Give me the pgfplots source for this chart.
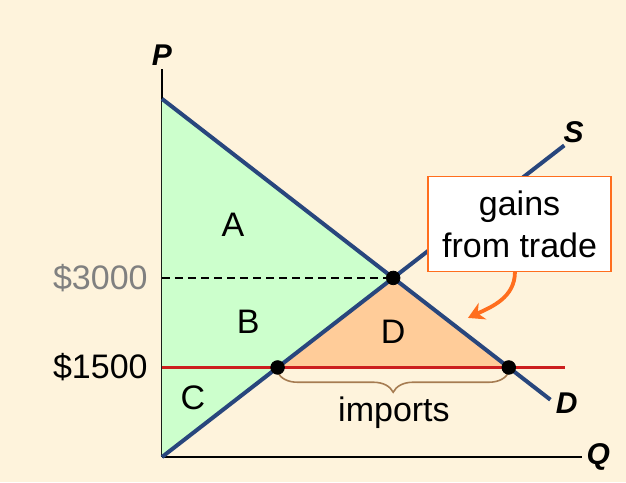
\documentclass[border=0pt]{standalone}
\usepackage{pgfplots}
\pgfplotsset{compat=1.18}
\usepackage{fontspec}
\setmainfont{Liberation Sans}
\usetikzlibrary{decorations.pathreplacing,arrows.meta}

\definecolor{bgcream}{RGB}{254,243,220}
\definecolor{csgreen}{RGB}{204,255,204}
\definecolor{gainorange}{RGB}{255,204,153}
\definecolor{curveblue}{RGB}{40,70,125}
\definecolor{worldred}{RGB}{204,30,30}
\definecolor{bracebrown}{RGB}{166,124,82}
\definecolor{callout}{RGB}{255,110,30}

\begin{document}
\begin{tikzpicture}
% cream background, 1px = 0.5pt, axis origin at (0,0)
\fill[bgcream] (-81pt,-12.5pt) rectangle (232pt,228.5pt);
\begin{axis}[
    scale only axis,
    width=210pt,
    height=194pt,
    xmin=0, xmax=54.5,
    ymin=0, ymax=6500,
    axis lines=left,
    axis line style={black, line width=0.9pt, -},
    xtick=\empty, ytick=\empty,
    clip=false,
    font=\fontsize{17}{19}\selectfont,
]
% consumer + producer surplus before trade (A+B+C)
\addplot[fill=csgreen, draw=none] coordinates {(0,6000) (30,3000) (0,0)} -- cycle;
% gains from trade (D)
\addplot[fill=gainorange, draw=none] coordinates {(15,1500) (30,3000) (45,1500)} -- cycle;
% autarky price
\addplot[black, line width=0.75pt, dash pattern=on 4pt off 2.5pt] coordinates {(0,3000) (30,3000)};
% world price
\addplot[worldred, line width=1.6pt] coordinates {(0,1500) (52.3,1500)};
% supply
\addplot[curveblue, line width=2pt] coordinates {(0,0) (52.2,5220)};
% demand
\addplot[curveblue, line width=2pt] coordinates {(0,6000) (50.4,960)};
% points
\addplot[only marks, mark=*, mark size=3.4pt, black] coordinates {(15,1500) (30,3000) (45,1500)};

\draw[bracebrown, line width=0.8pt, decorate, decoration={brace, mirror, amplitude=10pt}]
    (axis cs:15,1420) -- (axis cs:45,1420);
\node at (axis cs:30.1,737) {imports};

\node at (axis cs:9.2,3888) {A};
\node at (axis cs:11.2,2263) {B};
\node at (axis cs:4.0,989) {C};
\node at (axis cs:30,2095) {D};

\node[anchor=east, inner sep=0pt, text=gray] at ([xshift=-7pt]axis cs:0,3000) {\$3000};
\node[anchor=east, inner sep=0pt] at ([xshift=-7pt]axis cs:0,1500) {\$1500};

\node[font=\fontsize{15}{17}\selectfont\bfseries\itshape] at (axis cs:0,6738) {P};
\node[font=\fontsize{15}{17}\selectfont\bfseries\itshape] at (axis cs:56.6,0) {Q};
\node[font=\fontsize{15}{17}\selectfont\bfseries\itshape] at (axis cs:53.4,5447) {S};
\node[font=\fontsize{15}{17}\selectfont\bfseries\itshape] at (axis cs:52.5,905) {D};

\node[draw=callout, fill=white, line width=0.6pt, minimum width=91.5pt, minimum height=47.5pt,
      align=center, inner sep=2pt, font=\fontsize{17}{21}\selectfont]
    at (axis cs:46.4,3897) {gains\\from trade};
\draw[callout, line width=1.9pt, -{Stealth[length=8pt,width=9pt]}]
    (axis cs:45.8,3100) to[out=-90, in=25] (axis cs:39.7,2330);
\end{axis}
\end{tikzpicture}
\end{document}
